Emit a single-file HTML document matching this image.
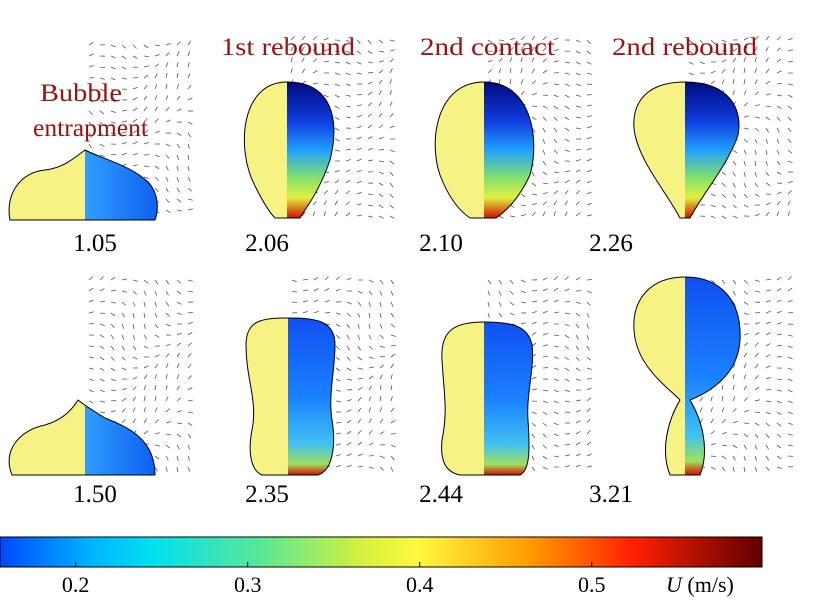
<!DOCTYPE html>
<html><head><meta charset="utf-8"><style>
body{margin:0;background:#fff;width:818px;height:613px;overflow:hidden;font-family:"Liberation Serif",serif}
svg{position:absolute;left:0;top:0}
</style></head><body>
<svg id="fig" width="818" height="613">
<defs>
<linearGradient id="cb" x1="0" x2="1" y1="0" y2="0">
<stop offset="0" stop-color="#0048ff"/><stop offset="0.12" stop-color="#00b4ff"/><stop offset="0.2" stop-color="#00e0f0"/>
<stop offset="0.35" stop-color="#60e890"/><stop offset="0.47" stop-color="#d0f040"/><stop offset="0.55" stop-color="#fff840"/>
<stop offset="0.7" stop-color="#ff9800"/><stop offset="0.83" stop-color="#ff2000"/><stop offset="1" stop-color="#600000"/>
</linearGradient>
<linearGradient id="rt" x1="0" x2="0" y1="0" y2="1">
<stop offset="0" stop-color="#000a80"/><stop offset="0.3" stop-color="#1040e0"/><stop offset="0.5" stop-color="#20a0ff"/>
<stop offset="0.7" stop-color="#80e070"/><stop offset="0.85" stop-color="#e0f040"/><stop offset="1" stop-color="#d01000"/>
</linearGradient>
<linearGradient id="rb" x1="0" x2="0" y1="0" y2="1">
<stop offset="0" stop-color="#1050f0"/><stop offset="0.5" stop-color="#1a80ff"/><stop offset="0.8" stop-color="#40c0f0"/>
<stop offset="0.93" stop-color="#a0e060"/><stop offset="1" stop-color="#d01000"/>
</linearGradient>
<linearGradient id="rf" x1="0" x2="1" y1="0" y2="0">
<stop offset="0" stop-color="#e01000"/><stop offset="0.3" stop-color="#f06010"/><stop offset="0.5" stop-color="#30a0ff"/><stop offset="1" stop-color="#1060f0"/>
</linearGradient>
</defs>
<g id="arrows"></g>
<g id="drops"></g>
<g font-size="25" fill="#a01010">
<text x="221" y="55" textLength="134" lengthAdjust="spacingAndGlyphs">1st rebound</text>
<text x="420" y="55" textLength="135" lengthAdjust="spacingAndGlyphs">2nd contact</text>
<text x="612" y="55" textLength="145" lengthAdjust="spacingAndGlyphs">2nd rebound</text>
<text x="40" y="101" textLength="82" lengthAdjust="spacingAndGlyphs">Bubble</text>
<text x="33" y="136" textLength="115" lengthAdjust="spacingAndGlyphs">entrapment</text>
</g>
<g font-size="25" fill="#000" text-anchor="middle">
<text x="95" y="251">1.05</text><text x="267" y="251">2.06</text><text x="441" y="251">2.10</text><text x="611" y="251">2.26</text>
<text x="95" y="502">1.50</text><text x="267" y="502">2.35</text><text x="441" y="502">2.44</text><text x="611" y="502">3.21</text>
</g>
<rect x="0" y="537" width="762" height="30" fill="url(#cb)" stroke="#000" stroke-width="1"/>
<g id="cbt" font-size="22" fill="#000" text-anchor="middle"></g>
<text x="666" y="592" font-size="22"><tspan font-style="italic">U</tspan> (m/s)</text>
</svg>
<script>
const cbTicks=[0.2,0.3,0.4,0.5];
const cbMin=0.156,cbMax=0.599;
const NS="http://www.w3.org/2000/svg";
function cx(v){return (v-cbMin)/(cbMax-cbMin)*762;}
const g=document.getElementById('cbt');
cbTicks.forEach(v=>{const t=document.createElementNS(NS,'text');t.setAttribute('x',cx(v));t.setAttribute('y',592);t.textContent=v.toFixed(1);


g.appendChild(t);
const l=document.createElementNS(NS,'line');l.setAttribute('x1',cx(v));l.setAttribute('x2',cx(v));l.setAttribute('y1',562);l.setAttribute('y2',567);l.setAttribute('stroke','#000');g.appendChild(l);});
const A=document.getElementById('arrows');
const fields=[[85,45,220],[287,40,220],[484,40,220],[685,40,220],[85,280,475],[288,280,475],[484,280,475],[685,280,475]];
fields.forEach(([ax,y0,y1],fi)=>{for(let y=y0;y<y1;y+=11)for(let x=ax+4;x<ax+108;x+=11){
const a=Math.sin(x*0.05+y*0.03+fi)*0.9+Math.cos(y*0.04)*0.5;const L=5;
const l=document.createElementNS(NS,'line');l.setAttribute('x1',x);l.setAttribute('y1',y);
l.setAttribute('x2',x+L*Math.cos(a));l.setAttribute('y2',y+L*Math.sin(a));l.setAttribute('stroke','#555');l.setAttribute('stroke-width','0.8');A.appendChild(l);}});
const drops=[
[85,"M10,220 C5,195 20,172 45,170 C62,168 72,160 85,150 C100,158 130,165 148,182 C160,195 158,212 155,220 Z","url(#rf)"],
[287,"M287,82 C240,82 236,150 255,186 C264,204 271,214 275,218 L300,218 C306,208 320,190 330,160 C340,120 332,82 287,82 Z","url(#rt)"],
[484,"M484,82 C437,82 428,140 440,175 C448,196 458,210 470,218 L496,218 C508,210 520,196 530,175 C540,140 532,82 484,82 Z","url(#rt)"],
[685,"M685,82 C640,82 630,110 635,135 C642,165 665,190 680,218 L690,218 C705,190 728,165 738,135 C743,110 730,82 685,82 Z","url(#rt)"],
[85,"M12,475 C2,450 20,430 45,425 C62,420 72,410 78,400 C84,405 92,410 105,418 C130,428 155,440 155,475 Z","url(#rf)"],
[288,"M288,318 C262,318 246,320 246,345 C246,380 258,400 252,430 C248,450 250,470 262,475 L318,475 C333,470 336,445 332,420 C328,395 335,370 335,345 C335,320 315,318 288,318 Z","url(#rb)"],
[484,"M484,322 C455,322 440,330 442,360 C444,395 448,410 442,440 C440,460 445,472 460,475 L520,475 C530,470 530,450 528,420 C526,395 535,365 532,345 C528,325 510,322 484,322 Z","url(#rb)"],
[685,"M685,277 C650,277 632,300 634,330 C636,365 665,385 680,400 C668,420 660,450 670,475 L700,475 C710,450 702,420 690,400 C710,392 738,375 740,340 C742,300 720,277 685,277 Z","url(#rb)"]];
const D=document.getElementById('drops');
drops.forEach(([ax,p,f],i)=>{
const cp=document.createElementNS(NS,'clipPath');cp.setAttribute('id','c'+i);const r=document.createElementNS(NS,'rect');
r.setAttribute('x',ax);r.setAttribute('y',0);r.setAttribute('width',300);r.setAttribute('height',613);cp.appendChild(r);D.appendChild(cp);
const left=document.createElementNS(NS,'path');left.setAttribute('d',p);left.setAttribute('fill','#f6f284');D.appendChild(left);
const right=document.createElementNS(NS,'path');right.setAttribute('d',p);right.setAttribute('fill',f);right.setAttribute('clip-path','url(#c'+i+')');D.appendChild(right);
const o=document.createElementNS(NS,'path');o.setAttribute('d',p);o.setAttribute('fill','none');o.setAttribute('stroke','#000');o.setAttribute('stroke-width','1');


D.appendChild(o);});
</script>
</body></html>
